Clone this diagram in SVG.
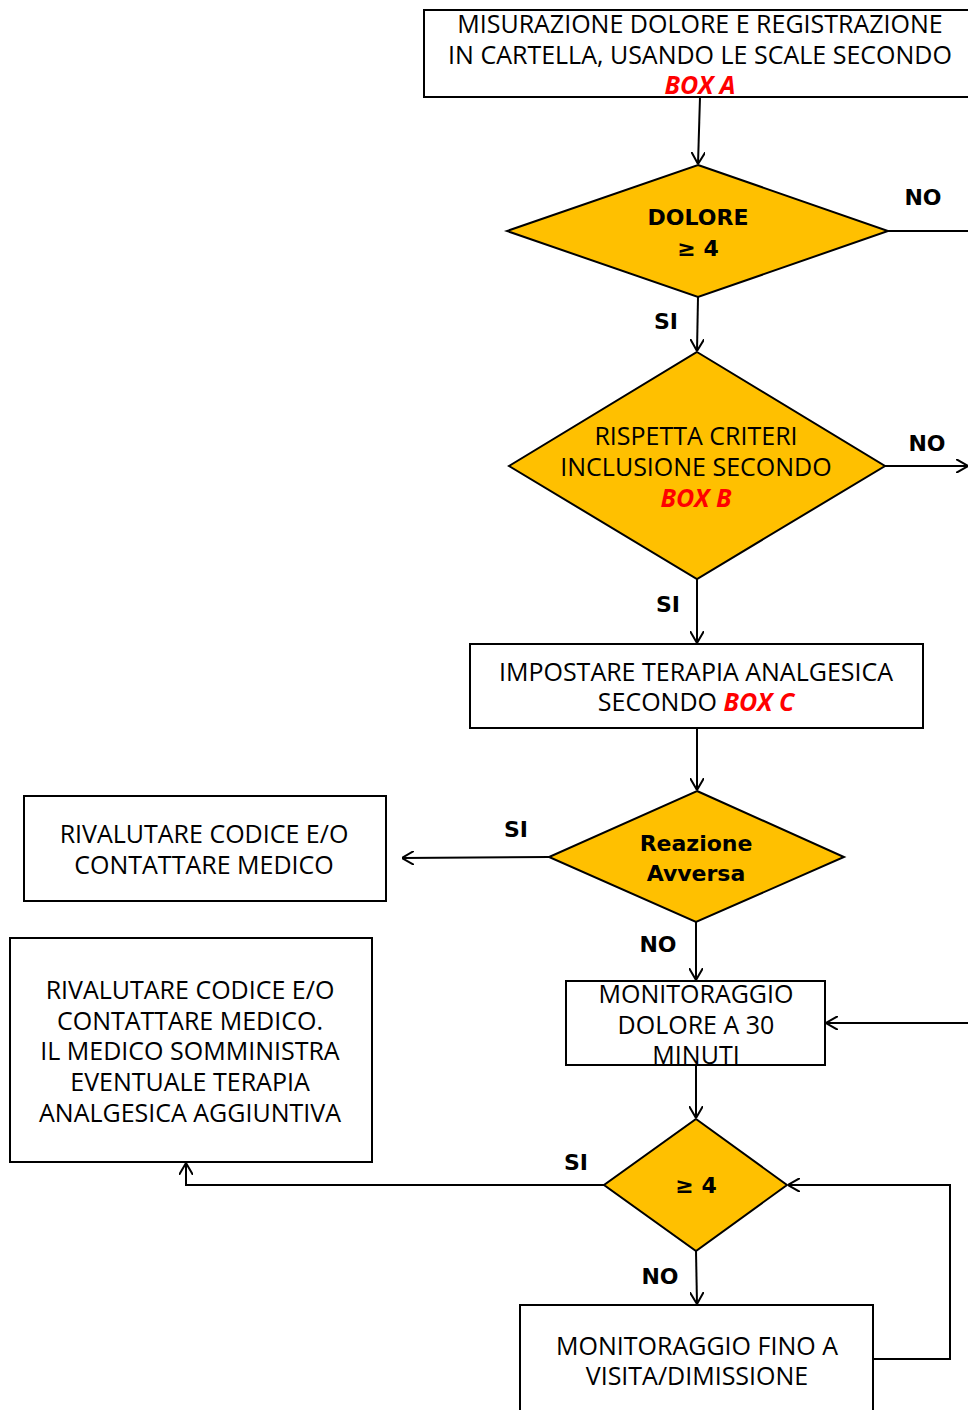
<svg xmlns="http://www.w3.org/2000/svg" width="968" height="1410" viewBox="0 0 968 1410">
<defs>
<marker id="arr" viewBox="0 0 12 14" refX="12" refY="7" markerWidth="12" markerHeight="14" markerUnits="userSpaceOnUse" orient="auto">
<path d="M0,0 L12,7 L0,14" fill="none" stroke="#000" stroke-width="2"/>
</marker>
</defs>
<style>
.box{fill:#fff;stroke:#000;stroke-width:2}
.dia{fill:#FFC000;stroke:#000;stroke-width:2}
.t{font-family:"Open Sans","Liberation Sans",sans-serif;font-size:25px;fill:#000;text-anchor:middle}
.r{font-family:"Open Sans","Liberation Sans",sans-serif;font-size:25px;fill:#FF0000;font-weight:bold;font-style:italic}
.b{font-family:"DejaVu Sans","Liberation Sans",sans-serif;font-size:22px;font-weight:bold;fill:#000;text-anchor:middle}
.c{fill:none;stroke:#000;stroke-width:2}
</style>
<g id="n1">
<rect class="box" x="424" y="10" width="560" height="87"/>
<text class="t" x="700" y="33">MISURAZIONE DOLORE E REGISTRAZIONE</text>
<text class="t" x="700" y="64">IN CARTELLA, USANDO LE SCALE SECONDO</text>
<text class="t" x="700" y="94"><tspan class="r">BOX A</tspan></text>
</g>
<g id="n2">
<polygon class="dia" points="698,165 888,231 698,297 507,231"/>
<text class="b" x="698" y="225">DOLORE</text>
<text class="b" x="698" y="256">≥ 4</text>
</g>
<g id="n3">
<polygon class="dia" points="697,352 885,466 697,579 509,466"/>
<text class="t" x="696" y="445">RISPETTA CRITERI</text>
<text class="t" x="696" y="476">INCLUSIONE SECONDO</text>
<text class="t" x="696" y="507"><tspan class="r">BOX B</tspan></text>
</g>
<g id="n4">
<rect class="box" x="470" y="644" width="453" height="84"/>
<text class="t" x="696" y="681">IMPOSTARE TERAPIA ANALGESICA</text>
<text class="t" x="696" y="711">SECONDO <tspan class="r">BOX C</tspan></text>
</g>
<g id="n5">
<polygon class="dia" points="697,791 844,857 696,922 549,857"/>
<text class="b" x="696" y="851">Reazione</text>
<text class="b" x="696" y="881">Avversa</text>
</g>
<g id="n6">
<rect class="box" x="24" y="796" width="362" height="105"/>
<text class="t" x="204" y="843">RIVALUTARE CODICE E/O</text>
<text class="t" x="204" y="874">CONTATTARE MEDICO</text>
</g>
<g id="n7">
<rect class="box" x="566" y="981" width="259" height="84"/>
<text class="t" x="696" y="1003">MONITORAGGIO</text>
<text class="t" x="696" y="1034">DOLORE A 30</text>
<text class="t" x="696" y="1064">MINUTI</text>
</g>
<g id="n8">
<polygon class="dia" points="696,1119 787,1185 696,1251 604,1185"/>
<text class="b" x="696" y="1193">≥ 4</text>
</g>
<g id="n9">
<rect class="box" x="10" y="938" width="362" height="224"/>
<text class="t" x="190" y="999">RIVALUTARE CODICE E/O</text>
<text class="t" x="190" y="1030">CONTATTARE MEDICO.</text>
<text class="t" x="190" y="1060">IL MEDICO SOMMINISTRA</text>
<text class="t" x="190" y="1091">EVENTUALE TERAPIA</text>
<text class="t" x="190" y="1122">ANALGESICA AGGIUNTIVA</text>
</g>
<g id="n10">
<rect class="box" x="520" y="1305" width="353" height="120"/>
<text class="t" x="697" y="1355">MONITORAGGIO FINO A</text>
<text class="t" x="697" y="1385">VISITA/DIMISSIONE</text>
</g>
<g id="connectors">
<path class="c" d="M700,97 L698,164" marker-end="url(#arr)"/>
<path class="c" d="M888,231 L968,231"/>
<path class="c" d="M698,297 L697,351" marker-end="url(#arr)"/>
<path class="c" d="M885,466 L968,466" marker-end="url(#arr)"/>
<path class="c" d="M697,579 L697,643" marker-end="url(#arr)"/>
<path class="c" d="M697,728 L697,790" marker-end="url(#arr)"/>
<path class="c" d="M549,857 L402,858" marker-end="url(#arr)"/>
<path class="c" d="M696,922 L696,980" marker-end="url(#arr)"/>
<path class="c" d="M968,1023 L826,1023" marker-end="url(#arr)"/>
<path class="c" d="M696,1065 L696,1118" marker-end="url(#arr)"/>
<path class="c" d="M604,1185 L186,1185 L186,1163" marker-end="url(#arr)"/>
<path class="c" d="M696,1251 L697,1304" marker-end="url(#arr)"/>
<path class="c" d="M873,1359 L950,1359 L950,1185 L788,1185" marker-end="url(#arr)"/>
<text class="b" x="923" y="205">NO</text>
<text class="b" x="666" y="329">SI</text>
<text class="b" x="927" y="451">NO</text>
<text class="b" x="668" y="612">SI</text>
<text class="b" x="516" y="837">SI</text>
<text class="b" x="658" y="952">NO</text>
<text class="b" x="576" y="1170">SI</text>
<text class="b" x="660" y="1284">NO</text>
</g>
</svg>
